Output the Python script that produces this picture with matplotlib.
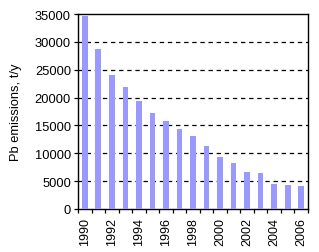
import numpy as np
import matplotlib
matplotlib.use('Agg')
import matplotlib.pyplot as plt

plt.rcParams['font.family'] = ['Liberation Sans', 'DejaVu Sans']

# Pb emissions, t/y
years = [1990, 1991, 1992, 1993, 1994, 1995, 1996, 1997, 1998,
         1999, 2000, 2001, 2002, 2003, 2004, 2005, 2006]
emissions = [34700, 28700, 24050, 21900, 19400, 17230, 15850, 14360, 13100,
             11300, 9330, 8260, 6640, 6460, 4490, 4300, 4130]
yticks = [0, 5000, 10000, 15000, 20000, 25000, 30000, 35000]

fig = plt.figure(figsize=(3.19, 2.53), dpi=100)
ax = fig.add_axes([0.2445, 0.17, 0.721, 0.7703])

x = np.arange(len(years))
ax.bar(x, emissions, width=0.42, color='#9999FF', zorder=3)

ax.set_xlim(-0.5, len(years) - 0.5)
ax.set_ylim(0, 35000)
ax.set_yticks(yticks)
ax.set_yticklabels([str(v) for v in yticks], fontsize=9.3)
for v in yticks[1:-1]:
    ax.axhline(v, color='black', lw=0.9, ls=(0, (3.5, 3)), zorder=1)

# year labels every 2nd bar, tick marks at every category boundary
ax.set_xticks(x[::2])
ax.set_xticklabels([str(y) for y in years[::2]], rotation=90, fontsize=9)
ax.tick_params(axis='x', length=0, pad=6)
ax.set_xticks(np.arange(len(years) + 1) - 0.5, minor=True)
ax.tick_params(axis='x', which='minor', length=3, width=0.9, color='black')
ax.tick_params(axis='y', length=3, width=0.9, pad=2)

for s in ax.spines.values():
    s.set_linewidth(1.0)
    s.set_color('black')

ax.set_ylabel('Pb emissions, t/y', fontsize=9.3, labelpad=9)

fig.savefig('out.png', dpi=100)
